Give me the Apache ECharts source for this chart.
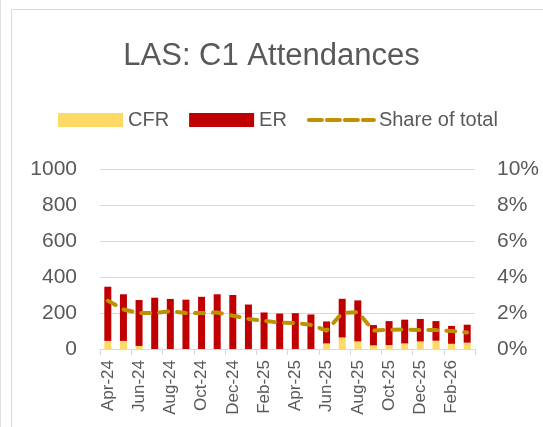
<!DOCTYPE html>
<html>
<head>
<meta charset="utf-8">
<script src="https://cdn.jsdelivr.net/npm/echarts@6/dist/echarts.min.js"></script>
<style>
  html, body { margin: 0; padding: 0; background: #fff; }
  #main { width: 543px; height: 427px; }
</style>
</head>
<body>
<div id="main"></div>
<script>
var myChart = echarts.init(document.getElementById('main'));

// months Apr-24 .. Mar-26
var months = ['Apr-24','May-24','Jun-24','Jul-24','Aug-24','Sep-24','Oct-24','Nov-24','Dec-24','Jan-25','Feb-25','Mar-25',
              'Apr-25','May-25','Jun-25','Jul-25','Aug-25','Sep-25','Oct-25','Nov-25','Dec-25','Jan-26','Feb-26','Mar-26'];
var cfr = [45, 45, 17, 0, 0, 0, 0, 0, 0, 0, 0, 0,
           0, 0, 31, 64, 42, 20, 22, 31, 42, 46, 29, 35];
var er  = [301, 259, 255, 285, 278, 274, 290, 304, 300, 247, 203, 197,
           199, 192, 122, 215, 228, 113, 133, 132, 125, 109, 99, 100];
var share = [2.68, 2.2, 2.0, 2.0, 2.1, 2.0, 2.0, 2.03, 1.85, 1.67, 1.57, 1.46,
             1.44, 1.34, 1.02, 2.0, 2.05, 1.02, 1.07, 1.09, 1.05, 1.05, 1.0, 0.92];

var grey = '#595959';
var font = 'Liberation Sans';

var option = {
    animation: false,
    title: {
        text: 'LAS: C1 Attendances',
        left: 'center',
        top: 36,
        textStyle: { fontFamily: font, fontSize: 31, fontWeight: 'normal', color: grey }
    },
    legend: {
        left: 58,
        top: 110,
        padding: 0,
        itemWidth: 65,
        itemHeight: 14,
        itemGap: 20,
        textStyle: { fontFamily: font, fontSize: 20, color: grey },
        data: [
            { name: 'CFR', icon: 'rect' },
            { name: 'ER', icon: 'rect' },
            { name: 'Share of total',
              itemStyle: { opacity: 0 },
              lineStyle: { color: '#BF9000', width: 4, type: [13, 5] } }
        ]
    },
    grid: { left: 100, right: 68, top: 169, bottom: 78 },
    xAxis: {
        type: 'category',
        data: months,
        axisLine: { lineStyle: { color: '#D9D9D9', width: 1 } },
        axisTick: { show: true, length: 6, lineStyle: { color: '#D9D9D9' } },
        axisLabel: { rotate: 90, interval: 1, margin: 11, fontFamily: font, fontSize: 17, color: grey }
    },
    yAxis: [{
        type: 'value',
        min: 0, max: 1000, interval: 200,
        axisLine: { show: false },
        axisTick: { show: false },
        splitLine: { lineStyle: { color: '#D9D9D9', width: 1 } },
        axisLabel: { margin: 23, fontFamily: font, fontSize: 21, color: grey,
                     formatter: function (v) { return String(v); } }
    }, {
        type: 'value',
        min: 0, max: 10, interval: 2,
        axisLine: { show: false },
        axisTick: { show: false },
        splitLine: { show: false },
        axisLabel: { margin: 22, fontFamily: font, fontSize: 21, color: grey, formatter: '{value}%' }
    }],
    series: [{
        name: 'CFR',
        type: 'bar',
        stack: 'total',
        barWidth: 7,
        itemStyle: { color: '#FFD966' },
        data: cfr
    }, {
        name: 'ER',
        type: 'bar',
        stack: 'total',
        barWidth: 7,
        itemStyle: { color: '#C00000' },
        data: er
    }, {
        name: 'Share of total',
        type: 'line',
        yAxisIndex: 1,
        symbol: 'none',
        lineStyle: { color: '#BF9000', width: 4, type: [9, 9], cap: 'round', join: 'round' },
        itemStyle: { color: '#BF9000' },
        data: share
    }],
    graphic: [{
        type: 'rect',
        shape: { x: 11.5, y: 9.5, width: 600, height: 500 },
        style: { fill: 'none', stroke: '#D9D9D9', lineWidth: 1 },
        silent: true
    }, {
        type: 'line',
        shape: { x1: 0.5, y1: 0, x2: 0.5, y2: 427 },
        style: { stroke: '#E0E0E0', lineWidth: 1 },
        silent: true
    }]
};

myChart.setOption(option);
window.onresize = myChart.resize;
</script>
</body>
</html>
